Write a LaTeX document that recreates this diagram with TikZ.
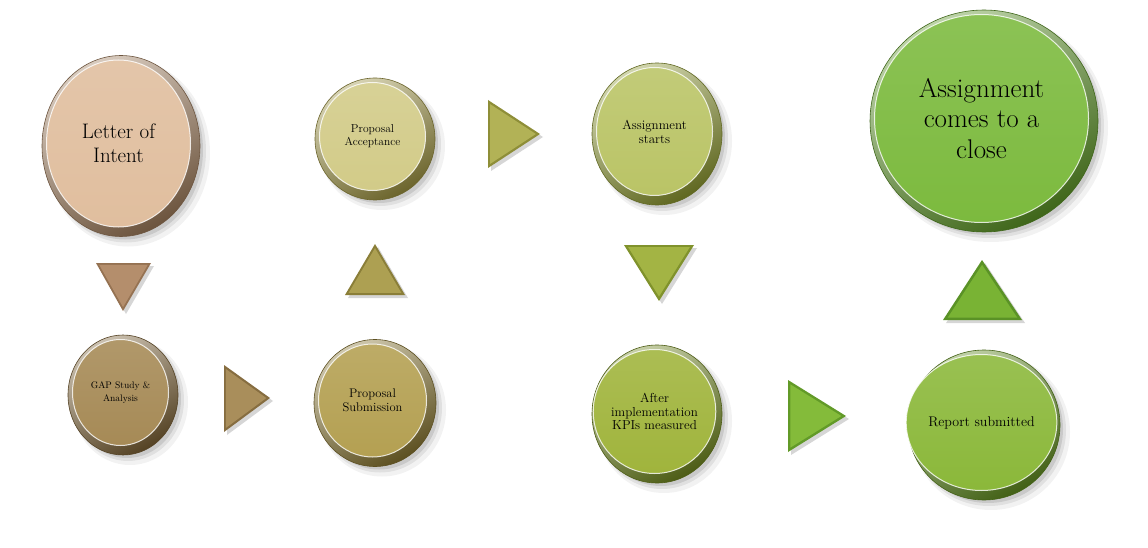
\documentclass[tikz,border=0pt]{standalone}
\usetikzlibrary{shapes.geometric,calc}
\begin{document}
\begin{tikzpicture}[x=1pt,y=-1pt,
  rim/.style={ellipse, inner sep=0pt, draw=#1!70!black, line width=.6pt},
  face/.style={ellipse, inner sep=0pt, align=center, text=black, draw=white, draw opacity=.8, line width=1pt},
]
\useasboundingbox (0,0) rectangle (1148,548);
\fill[white] (0,0) rectangle (1148,548);

% #1 name, #2 x, #3 y, #4 w, #5 h, #6 rim colour, #7 face colour, #8 font, #9 text
\newcommand\Disc[9]{%
  \fill[black,opacity=.05] (#2+7,#3+7) ellipse ({#4/2+3} and {#5/2+3});
  \fill[black,opacity=.07] (#2+5,#3+5) ellipse ({#4/2+1} and {#5/2+1});
  \fill[black,opacity=.10] (#2+4,#3+4) ellipse ({#4/2-1} and {#5/2-1});
  \node[rim=#6, minimum width=#4, minimum height=#5,
        left color=#6!40!white, right color=#6!70!black, shading angle=30] (#1) at (#2,#3) {};
  \node[face, minimum width={#4-14}, minimum height={#5-14},
        top color=#7!88!white, bottom color=#7, font=#8] (#1-t) at (#2-2.5,#3-2.5) {#9};
}
% #1 face, #2 edge, #3-#5 points (bare x,y)
\newcommand\Tri[5]{%
  \fill[black,opacity=.16] ([shift={(3,3)}]#3) -- ([shift={(3,3)}]#4) -- ([shift={(3,3)}]#5) -- cycle;
  \fill[#2] (#3) -- (#4) -- (#5) -- cycle;
  \coordinate (tc) at ($1/3*(#3)+1/3*(#4)+1/3*(#5)$);
  \fill[#1] ($(tc)!0.88!(#3)$) -- ($(tc)!0.88!(#4)$) -- ($(tc)!0.88!(#5)$) -- cycle;
}

\definecolor{liR}{HTML}{9C7A5A}\definecolor{liF}{HTML}{E0BE9E}
\definecolor{gaR}{HTML}{7A6035}\definecolor{gaF}{HTML}{A68A56}
\definecolor{psR}{HTML}{857330}\definecolor{psF}{HTML}{B4A052}
\definecolor{paR}{HTML}{9A9040}\definecolor{paF}{HTML}{D2CB88}
\definecolor{asR}{HTML}{8A9530}\definecolor{asF}{HTML}{BAC466}
\definecolor{akR}{HTML}{6F8520}\definecolor{akF}{HTML}{A0B43C}
\definecolor{rsR}{HTML}{5F8A20}\definecolor{rsF}{HTML}{8BB83A}
\definecolor{clR}{HTML}{5A9225}\definecolor{clF}{HTML}{7CBA3E}

\definecolor{t1F}{HTML}{B48E6C}\definecolor{t1E}{HTML}{957252}
\definecolor{t2F}{HTML}{ADA052}\definecolor{t2E}{HTML}{8A7E38}
\definecolor{t3F}{HTML}{B2B256}\definecolor{t3E}{HTML}{8E8E38}
\definecolor{t4F}{HTML}{A3B444}\definecolor{t4E}{HTML}{80922C}
\definecolor{t5F}{HTML}{79B334}\definecolor{t5E}{HTML}{5A9226}
\definecolor{t6F}{HTML}{A98E5B}\definecolor{t6E}{HTML}{866D40}
\definecolor{t7F}{HTML}{84BB3A}\definecolor{t7E}{HTML}{629A28}

\Disc{li}{121}{146}{158}{181}{liR}{liF}{\fontsize{21}{24}\selectfont}{Letter of\\Intent}
\Disc{pa}{375}{139}{120}{122}{paR}{paF}{\fontsize{11.5}{13}\selectfont}{Proposal\\Acceptance}
\Disc{as}{657}{134}{130}{142}{asR}{asF}{\fontsize{13}{14}\selectfont}{Assignment\\starts}
\Disc{cl}{984}{121}{228}{222}{clR}{clF}{\fontsize{27}{30.5}\selectfont}{Assignment\\comes to a\\close}
\Disc{ga}{123}{395}{110}{120}{gaR}{gaF}{\fontsize{9.5}{13}\selectfont}{GAP Study \&\\Analysis}
\Disc{ps}{375}{403}{122}{127}{psR}{psF}{\fontsize{12.5}{13.5}\selectfont}{Proposal\\Submission}
\Disc{ak}{657}{414}{130}{138}{akR}{akF}{\fontsize{13}{13.8}\selectfont}{After\\implementation\\KPIs measured}
\Disc{rs}{984}{425}{152}{150}{rsR}{rsF}{\fontsize{14}{16}\selectfont}{Report submitted}

\Tri{t1F}{t1E}{96,263}{151,263}{123,311}
\Tri{t2F}{t2E}{345,295}{405,295}{375,244}
\Tri{t3F}{t3E}{488,100}{488,168}{540,134}
\Tri{t4F}{t4E}{624,245}{694,245}{659,301}
\Tri{t5F}{t5E}{943,320}{1022,320}{982,260}
\Tri{t6F}{t6E}{224,365}{224,432}{270,398}
\Tri{t7F}{t7E}{788,380}{788,452}{846,416}
\end{tikzpicture}
\end{document}
